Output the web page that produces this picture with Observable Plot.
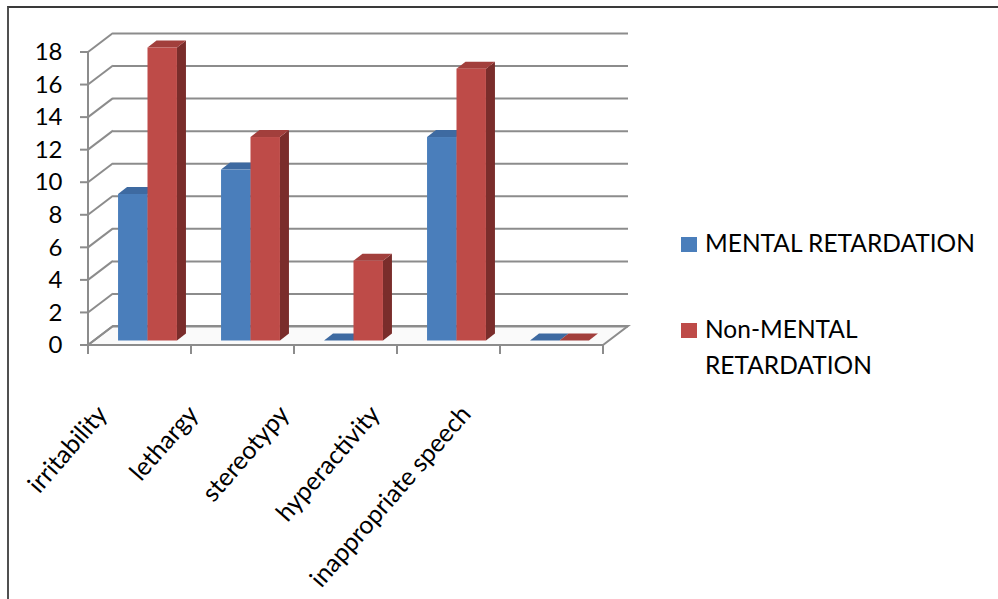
<!DOCTYPE html>
<html>
<head>
<meta charset="utf-8">
<script src="https://cdn.jsdelivr.net/npm/d3@7"></script>
<script src="https://cdn.jsdelivr.net/npm/@observablehq/plot@0.6"></script>
<style>
  body { margin: 0; background: #fff; }
  #wrap { position: relative; width: 998px; height: 599px; overflow: hidden; font-family: Lato, "Open Sans", sans-serif; }
  #chart { position: absolute; left: 0; top: 0; }
  #border { position: absolute; left: 7px; top: 6px; right: -10px; bottom: -10px; border-top: 2px solid #3a3a3a; border-left: 2px solid #505050; pointer-events: none; }
  .sw { position: absolute; width: 16px; height: 15px; }
  .lt { position: absolute; left: 705px; width: 290px; font-size: 24.5px; line-height: 36px; color: #000; font-family: Lato, sans-serif; }
</style>
</head>
<body>
<div id="wrap">
  <div id="chart"></div>
  <div id="border"></div>
  <div id="legend"></div>
</div>
<script>
// ---- data ----
const categories = ["irritability", "lethargy", "stereotypy", "hyperactivity", "inappropriate speech"];
const seriesNames = ["MENTAL RETARDATION", "Non-MENTAL RETARDATION"];
const mentalRetardation = [9, 10.5, 0, 12.5, 0];
const nonMentalRetardation = [18, 12.5, 4.9, 16.7, 0];
const yTicks = [0, 2, 4, 6, 8, 10, 12, 14, 16, 18];

// ---- styles ----
const palette = [
  {front: "#4a7ebb", top: "#3e6aa1", side: "#2f5482"},
  {front: "#be4b48", top: "#a23f3c", side: "#7a2d2b"}
];
const gridColor = "#8c8c8c";
const WALL = {dx: 25, dy: -19};
const BAR_SHIFT = {dx: 8, dy: -4.5};
const BAR_DEPTH = {dx: 9, dy: -7};

const table = [];
categories.forEach((c, i) => {
  table.push({category: c, series: 0, value: mentalRetardation[i]});
  table.push({category: c, series: 1, value: nonMentalRetardation[i]});
});

const poly = (pts) => pts.map(p => p.join(",")).join(" ");

function floorMark(index, scales, values, dims) {
  const y = scales.y;
  const xl = dims.marginLeft, xr = dims.width - dims.marginRight;
  const y0 = y(0);
  const g = d3.create("svg:g");
  g.append("polygon")
    .attr("points", poly([[xl, y0], [xr, y0], [xr + WALL.dx, y0 + WALL.dy], [xl + WALL.dx, y0 + WALL.dy]]))
    .attr("fill", "#fafafa").attr("stroke", gridColor).attr("stroke-width", 2);
  return g.node();
}

function wallMark(index, scales, values, dims) {
  const x = scales.x, y = scales.y;
  const xl = dims.marginLeft;
  const g = d3.create("svg:g").attr("stroke", gridColor).attr("stroke-width", 2).attr("fill", "none");
  for (const v of yTicks) {
    g.append("line").attr("x1", xl).attr("y1", y(v)).attr("x2", xl + WALL.dx).attr("y2", y(v) + WALL.dy);
    g.append("line").attr("x1", xl - 8).attr("y1", y(v)).attr("x2", xl).attr("y2", y(v));
  }
  g.append("line").attr("x1", xl).attr("y1", y(0)).attr("x2", xl).attr("y2", y(yTicks[yTicks.length - 1]));
  const bounds = categories.map(c => x(c)).concat([x(categories[categories.length - 1]) + x.bandwidth()]);
  for (const b of bounds) {
    g.append("line").attr("x1", b).attr("y1", y(0)).attr("x2", b).attr("y2", y(0) + 9);
  }
  return g.node();
}

function barsMark(index, scales, values, dims) {
  const x = scales.x, y = scales.y;
  const bw = x.bandwidth();
  const w = bw * 0.286;
  const g = d3.create("svg:g");
  for (const d of table) {
    const c = x(d.category) + bw / 2 + BAR_SHIFT.dx;
    const xl = d.series === 0 ? c - w : c;
    const xr = xl + w;
    const yt = y(d.value) + BAR_SHIFT.dy;
    const yb = y(0) + BAR_SHIFT.dy;
    const col = palette[d.series];
    g.append("polygon").attr("points", poly([[xr, yt], [xr + BAR_DEPTH.dx, yt + BAR_DEPTH.dy], [xr + BAR_DEPTH.dx, yb + BAR_DEPTH.dy], [xr, yb]]))
      .attr("fill", col.side);
    g.append("polygon").attr("points", poly([[xl, yt], [xr, yt], [xr + BAR_DEPTH.dx, yt + BAR_DEPTH.dy], [xl + BAR_DEPTH.dx, yt + BAR_DEPTH.dy]]))
      .attr("fill", col.top);
    if (yb - yt > 0.5) {
      g.append("rect").attr("x", xl).attr("y", yt).attr("width", w).attr("height", yb - yt).attr("fill", col.front);
    }
  }
  return g.node();
}

function labelsMark(index, scales, values, dims) {
  const x = scales.x, y = scales.y;
  const bw = x.bandwidth();
  const xl = dims.marginLeft;
  const g = d3.create("svg:g");
  categories.forEach((c) => {
    const center = x(c) + bw / 2;
    const ax = xl + (center - xl) * 0.883 - 25;
    const ay = y(0) + 70;
    g.append("text")
      .attr("transform", `translate(${ax},${ay}) rotate(-49)`)
      .attr("text-anchor", "end")
      .attr("style", "font-family: Lato, sans-serif; font-size: 25px; fill: #000;")
      .text(c);
  });
  return g.node();
}

const chart = Plot.plot({
  width: 998,
  height: 599,
  marginLeft: 88,
  marginRight: 395,
  marginTop: 52,
  marginBottom: 254,
  style: {fontFamily: "Lato, sans-serif", fontSize: "24px", color: "#000", background: "transparent", overflow: "visible"},
  x: {type: "band", domain: categories, padding: 0, axis: null},
  y: {domain: [0, 18], ticks: yTicks, tickSize: 0, tickPadding: 26, label: null},
  marks: [
    floorMark,
    Plot.ruleY(yTicks, {dx: WALL.dx, dy: WALL.dy, stroke: gridColor, strokeWidth: 2}),
    wallMark,
    barsMark,
    labelsMark
  ]
});
document.getElementById("chart").appendChild(chart);

// ---- legend ----
const legend = document.getElementById("legend");
const legendTops = [225, 311];
seriesNames.forEach((name, i) => {
  const sw = document.createElement("div");
  sw.className = "sw";
  sw.style.left = "681px";
  sw.style.top = (legendTops[i] + 12) + "px";
  sw.style.background = palette[i].front;
  legend.appendChild(sw);
  const t = document.createElement("div");
  t.className = "lt";
  t.style.top = legendTops[i] + "px";
  t.textContent = name;
  legend.appendChild(t);
});
</script>
</body>
</html>
